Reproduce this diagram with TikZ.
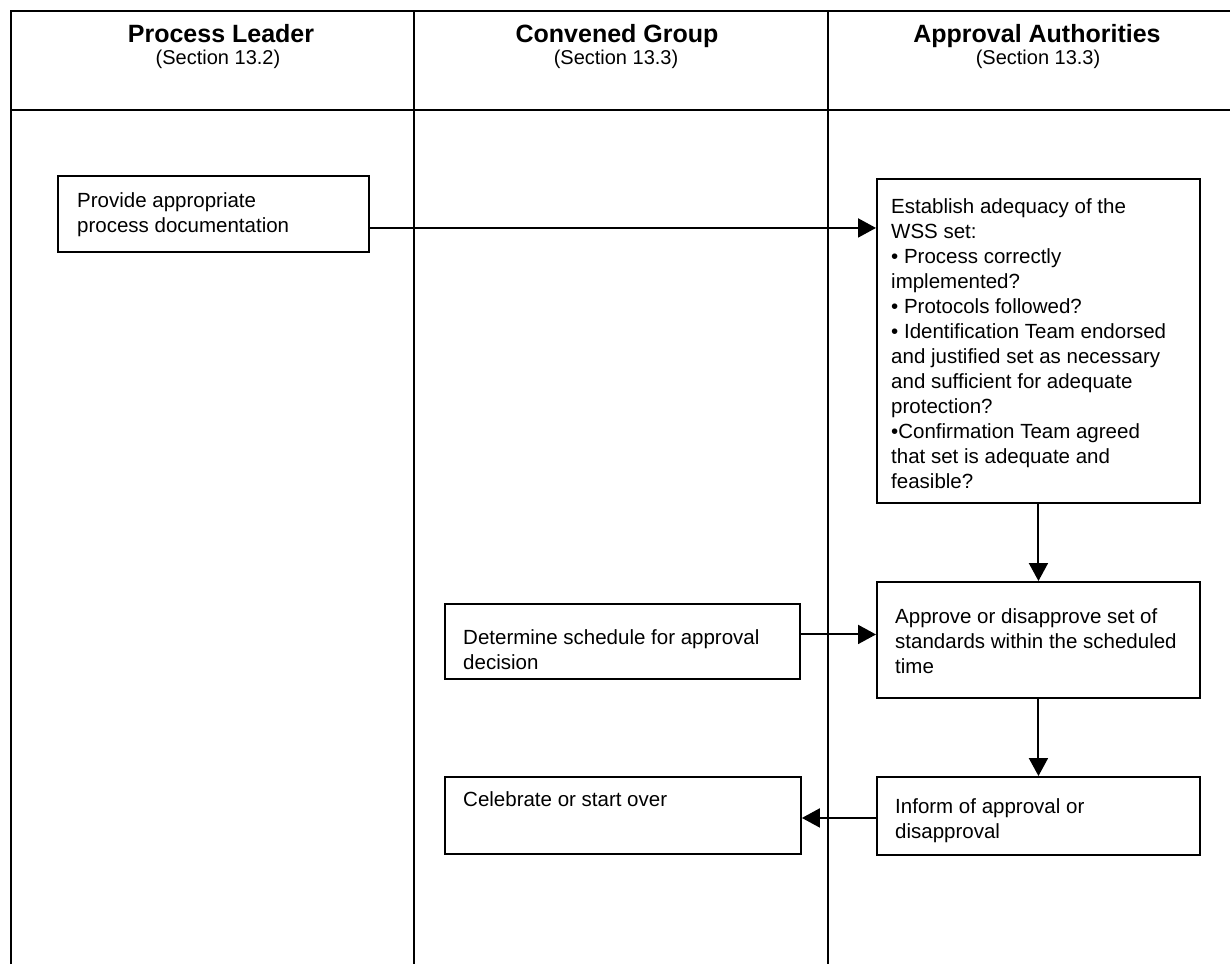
\documentclass[tikz,border=0pt]{standalone}
\usepackage{fontspec}
\setmainfont{Liberation Sans}
\usetikzlibrary{arrows.meta,calc}
\tikzset{
  frame/.style={line width=2pt},
  box/.style={draw, line width=1.9pt, rectangle, inner sep=0pt, anchor=north west},
  txt/.style={inner sep=0pt, anchor=north west, align=left, font=\fontsize{20.5}{25}\selectfont},
  ttl/.style={inner sep=0pt, anchor=base, font=\fontsize{25}{30}\selectfont\bfseries},
  sub/.style={inner sep=0pt, anchor=base, font=\fontsize{20}{24}\selectfont},
  arr/.style={line width=2pt, -{Triangle[length=18pt,width=19pt]}}
}
\begin{document}
\begin{tikzpicture}[x=1pt,y=-1pt]
\useasboundingbox (0,0) rectangle (1230,964);
% lane frame
\draw[frame] (11,964) -- (11,11) -- (1230,11);
\draw[frame] (11,110) -- (1230,110);
\draw[frame] (414,11) -- (414,964);
\draw[frame] (828,11) -- (828,964);
% headers
\node[ttl] (h1) at (221,42) {Process Leader};
\node[sub] (s1) at (218,64) {(Section 13.2)};
\node[ttl] (h2) at (617,42) {Convened Group};
\node[sub] (s2) at (616,64) {(Section 13.3)};
\node[ttl] (h3) at (1037,42) {Approval Authorities};
\node[sub] (s3) at (1038,64) {(Section 13.3)};
% boxes
\node[box, minimum width=311pt, minimum height=76pt] (prov) at (57,175) {};
\node[box, minimum width=323pt, minimum height=324pt] (est) at (876,178) {};
\node[box, minimum width=355pt, minimum height=75pt] (det) at (444,603) {};
\node[box, minimum width=323pt, minimum height=116pt] (appr) at (876,581) {};
\node[box, minimum width=356pt, minimum height=77pt] (cel) at (444,776) {};
\node[box, minimum width=323pt, minimum height=78pt] (inf) at (876,776) {};
% texts (top = first baseline - 15)
\node[txt] (tprov) at (77,192) {Provide appropriate\\process documentation};
\node[txt] (test) at (891,198) {Establish adequacy of the\\WSS set:\\\textbullet{} Process correctly\\implemented?\\\textbullet{} Protocols followed?\\\textbullet{} Identification Team endorsed\\and justified set as necessary\\and sufficient for adequate\\protection?\\\textbullet{}Confirmation Team agreed\\that set is adequate and\\feasible?};
\node[txt] (tdet) at (463,629) {Determine schedule for approval\\decision};
\node[txt] (tappr) at (895,608) {Approve or disapprove set of\\standards within the scheduled\\time};
\node[txt] (tcel) at (463,791) {Celebrate or start over};
\node[txt] (tinf) at (895,798) {Inform of approval or\\disapproval};
% connectors
\coordinate (c1) at ([yshift=-14pt]prov.east);
\draw[arr] (c1) -- (c1 -| est.west);
\draw[arr] (est.south) -- (appr.north);
\coordinate (c2) at ([yshift=7pt]det.east);
\draw[arr] (c2) -- (c2 -| appr.west);
\draw[arr] (appr.south) -- (inf.north);
\coordinate (c3) at ([yshift=-2pt]inf.west);
\draw[arr] (c3) -- (c3 -| cel.east);
\end{tikzpicture}
\end{document}
